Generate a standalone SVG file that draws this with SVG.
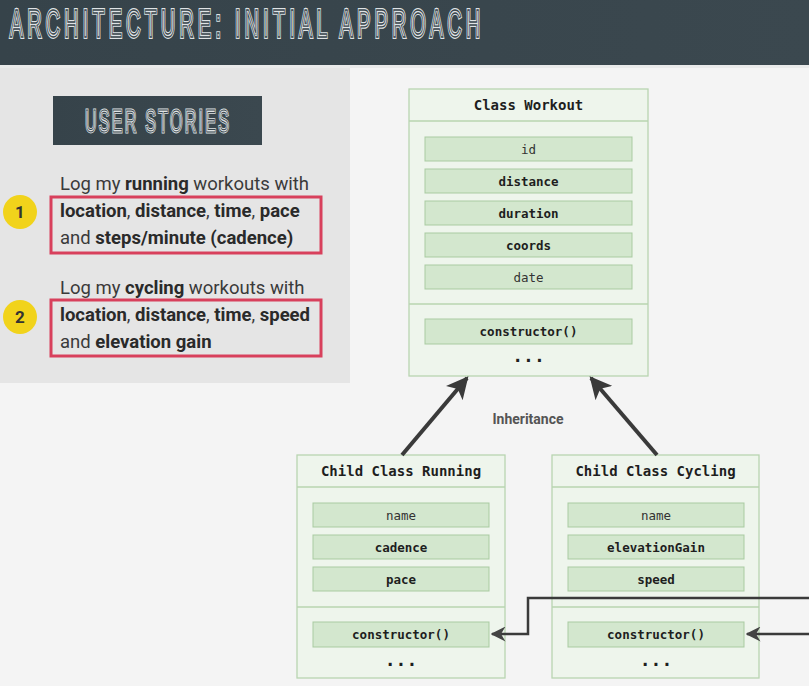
<svg xmlns="http://www.w3.org/2000/svg" width="809" height="686" viewBox="0 0 809 686">
<defs>
<linearGradient id="hdr" x1="0" y1="0" x2="1" y2="0">
<stop offset="0" stop-color="#36434a"/><stop offset="1" stop-color="#3b484f"/>
</linearGradient>
<marker id="big" viewBox="0 0 10 10" refX="9" refY="5" markerWidth="5.5" markerHeight="5.5" orient="auto" markerUnits="strokeWidth">
<path d="M0,0 L10,5 L0,10 L2.5,5 z" fill="#3a3a3a"/>
</marker>
<marker id="small" viewBox="0 0 10 10" refX="9" refY="5" markerWidth="6" markerHeight="6" orient="auto" markerUnits="strokeWidth">
<path d="M0,0 L10,5 L0,10 L3,5 z" fill="#444"/>
</marker>
</defs>
<style>
.node{fill:#eef5ec;stroke:#b9d5b1;stroke-width:1.3}
.div{stroke:#b9d5b1;stroke-width:1.3}
.fld{fill:#d3e7ce;stroke:#a9cba1;stroke-width:1}
.ttl{font-family:"DejaVu Sans Mono",monospace;font-weight:bold;font-size:14px;fill:#1e1e1e;text-anchor:middle}
.ft{font-family:"DejaVu Sans Mono",monospace;font-size:12.5px;fill:#333;text-anchor:middle}
.b{font-weight:bold;fill:#1e1e1e}
.dots{font-family:"DejaVu Sans Mono",monospace;font-weight:bold;font-size:18px;fill:#1e1e1e;text-anchor:middle}
.st{font-family:Roboto,"Liberation Sans",sans-serif;font-size:18.5px;fill:#3a3a3a}
.st tspan.k{font-weight:bold;fill:#2a2a2a}
.red{fill:none;stroke:#d8405c;stroke-width:3}
.num{font-family:Roboto,"Liberation Sans",sans-serif;font-weight:bold;font-size:17px;fill:#333;text-anchor:middle}
.conn{fill:none;stroke:#3a3a3a}
.hl{font-family:"Liberation Sans",sans-serif;fill:none;stroke:#dfe3e5;stroke-width:3}
.hd{font-family:"Liberation Sans",sans-serif;fill:none;stroke:#38454c;stroke-width:1.1}
</style>
<rect width="809" height="686" fill="#f4f4f4"/>
<!-- header -->
<g id="header">
<rect x="0" y="0" width="809" height="65" fill="url(#hdr)"/>
<rect x="0" y="65" width="809" height="3" fill="#e9eaea"/>
<g transform="translate(10,37) scale(0.5,1)">
<text class="hl" x="0" y="0" font-size="39" textLength="940" lengthAdjust="spacing" vector-effect="non-scaling-stroke">ARCHITECTURE: INITIAL APPROACH</text>
<text class="hd" x="0" y="0" font-size="39" textLength="940" lengthAdjust="spacing" vector-effect="non-scaling-stroke">ARCHITECTURE: INITIAL APPROACH</text>
</g>
</g>
<!-- user stories panel -->
<g id="user-stories">
<rect x="0" y="68" width="350" height="315" fill="#e5e5e5"/>
<rect x="53" y="96" width="209" height="49" fill="url(#hdr)"/>
<g transform="translate(85,132) scale(0.5,1)">
<text class="hl" x="0" y="0" font-size="32" textLength="288" lengthAdjust="spacing" style="stroke-width:2.2" vector-effect="non-scaling-stroke">USER STORIES</text>
<text class="hd" x="0" y="0" font-size="32" textLength="288" lengthAdjust="spacing" style="stroke-width:0.8" vector-effect="non-scaling-stroke">USER STORIES</text>
</g>
</g>
<g id="story-1">
<circle cx="20" cy="212" r="17" fill="#f1d31b"/>
<text class="num" x="20" y="218">1</text>
<rect class="red" x="51" y="197" width="270" height="56"/>
<text class="st" x="60" y="190">Log my <tspan class="k">running</tspan> workouts with</text>
<text class="st" x="60" y="217"><tspan class="k">location</tspan>, <tspan class="k">distance</tspan>, <tspan class="k">time</tspan>, <tspan class="k">pace</tspan></text>
<text class="st" x="60" y="244">and <tspan class="k">steps/minute (cadence)</tspan></text>
</g>
<g id="story-2">
<circle cx="20" cy="317" r="17" fill="#f1d31b"/>
<text class="num" x="20" y="323">2</text>
<rect class="red" x="51" y="300" width="270" height="56"/>
<text class="st" x="60" y="294">Log my <tspan class="k">cycling</tspan> workouts with</text>
<text class="st" x="60" y="321"><tspan class="k">location</tspan>, <tspan class="k">distance</tspan>, <tspan class="k">time</tspan>, <tspan class="k">speed</tspan></text>
<text class="st" x="60" y="348">and <tspan class="k">elevation gain</tspan></text>
</g>
<!-- Class Workout -->
<g id="class-workout">
<rect class="node" x="409" y="89" width="239" height="287"/>
<line class="div" x1="409" y1="121" x2="648" y2="121"/>
<line class="div" x1="409" y1="304" x2="648" y2="304"/>
<text class="ttl" x="528.5" y="110">Class Workout</text>
<rect class="fld" x="425" y="137" width="207" height="24"/>
<text class="ft" x="528.5" y="153.5">id</text>
<rect class="fld" x="425" y="169" width="207" height="24"/>
<text class="ft b" x="528.5" y="185.5">distance</text>
<rect class="fld" x="425" y="201" width="207" height="24"/>
<text class="ft b" x="528.5" y="217.5">duration</text>
<rect class="fld" x="425" y="233" width="207" height="24"/>
<text class="ft b" x="528.5" y="249.5">coords</text>
<rect class="fld" x="425" y="265" width="207" height="24"/>
<text class="ft" x="528.5" y="281.5">date</text>
<rect class="fld" x="425" y="319" width="207" height="25"/>
<text class="ft b" x="528.5" y="336">constructor()</text>
<text class="dots" x="528.5" y="362">...</text>
</g>
<!-- Child Class Running -->
<g id="child-running">
<rect class="node" x="297" y="455" width="208" height="223"/>
<line class="div" x1="297" y1="487" x2="505" y2="487"/>
<line class="div" x1="297" y1="607" x2="505" y2="607"/>
<text class="ttl" x="401" y="476">Child Class Running</text>
<rect class="fld" x="313" y="503" width="176" height="24"/>
<text class="ft" x="401" y="519.5">name</text>
<rect class="fld" x="313" y="535" width="176" height="24"/>
<text class="ft b" x="401" y="551.5">cadence</text>
<rect class="fld" x="313" y="567" width="176" height="24"/>
<text class="ft b" x="401" y="583.5">pace</text>
<rect class="fld" x="313" y="622" width="176" height="25"/>
<text class="ft b" x="401" y="639">constructor()</text>
<text class="dots" x="401" y="666">...</text>
</g>
<!-- Child Class Cycling -->
<g id="child-cycling">
<rect class="node" x="552" y="455" width="207" height="223"/>
<line class="div" x1="552" y1="487" x2="759" y2="487"/>
<line class="div" x1="552" y1="607" x2="759" y2="607"/>
<text class="ttl" x="655.5" y="476">Child Class Cycling</text>
<rect class="fld" x="568" y="503" width="176" height="24"/>
<text class="ft" x="656" y="519.5">name</text>
<rect class="fld" x="568" y="535" width="176" height="24"/>
<text class="ft b" x="656" y="551.5">elevationGain</text>
<rect class="fld" x="568" y="567" width="176" height="24"/>
<text class="ft b" x="656" y="583.5">speed</text>
<rect class="fld" x="568" y="622" width="176" height="25"/>
<text class="ft b" x="656" y="639">constructor()</text>
<text class="dots" x="656" y="666">...</text>
</g>
<!-- connectors -->
<g id="connectors">
<line class="conn" x1="402" y1="455" x2="467" y2="378" stroke-width="4" marker-end="url(#big)"/>
<line class="conn" x1="657" y1="455" x2="591" y2="378" stroke-width="4" marker-end="url(#big)"/>
<text x="528" y="424" text-anchor="middle" font-family="Roboto,'Liberation Sans',sans-serif" font-weight="bold" font-size="14" fill="#555">Inheritance</text>
<polyline class="conn" points="809,598 528,598 528,634 492,634" stroke-width="2.5" marker-end="url(#small)"/>
<line class="conn" x1="809" y1="634" x2="747" y2="634" stroke-width="2.5" marker-end="url(#small)"/>
</g>
</svg>
